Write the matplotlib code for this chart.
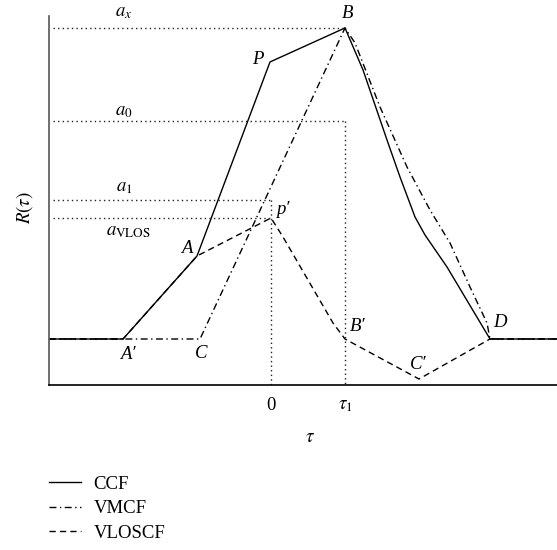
import numpy as np
import matplotlib
matplotlib.use("Agg")
import matplotlib.pyplot as plt

plt.rcParams['font.family'] = ['Liberation Serif', 'DejaVu Serif']
plt.rcParams['mathtext.fontset'] = 'stix'

## curves (x = tau, y = R(tau), arbitrary units)
ccf_x = [-22.2, -14.8, -7.4, -0.1, 7.4, 9.2, 11.6, 12.9, 14.4, 15.4, 17.6, 21.9, 28.6]
ccf_y = [4.6, 4.6, 12.9, 32.3, 35.7, 31.5, 24.5, 20.8, 16.8, 15.0, 11.8, 4.6, 4.6]

vmcf_x = [-22.2, -7.1, 7.4, 8.4, 10.9, 13.6, 15.9, 17.9, 19.9, 21.6, 21.9, 28.6]
vmcf_y = [4.6, 4.6, 35.7, 34.2, 27.8, 21.8, 17.5, 14.2, 9.8, 6.2, 4.6, 4.6]

vlos_x = [-22.2, -14.8, -7.4, 0.0, 1.2, 6.2, 7.4, 14.8, 21.9, 28.6]
vlos_y = [4.6, 4.6, 12.9, 16.7, 14.8, 6.2, 4.6, 0.6, 4.6, 4.6]

## reference levels
a_x, a_0, a_1, a_vlos = 35.7, 26.4, 18.5, 16.7
tau_0, tau_1 = 0.0, 7.4
level_names = [r'$a_x$', r'$a_0$', r'$a_1$', r'$a_{\mathrm{VLOS}}$']

## point labels
pt_names = ['P', 'B', 'p\u2032', 'A', 'A\u2032', 'C', 'B\u2032', 'C\u2032', 'D']
pt_x = [-1.3, 7.7, 1.2, -8.4, -14.3, -7.0, 8.7, 14.7, 22.9]
pt_y = [32.5, 37.1, 17.5, 13.6, 3.0, 3.1, 5.8, 2.0, 6.2]

fig = plt.figure(figsize=(5.57, 5.50), dpi=100)
ax = fig.add_axes([0.088, 0.3, 0.912, 0.671])
ax.set_xlim(-22.2, 28.6)
ax.set_ylim(0, 36.9)

lw = 1.0
l1, = ax.plot(ccf_x, ccf_y, color='black', lw=lw, label='CCF')
l2, = ax.plot(vmcf_x, vmcf_y, color='black', lw=lw, ls=(0, (5, 2.5, 1, 2.5)), label='VMCF')
l3, = ax.plot(vlos_x, vlos_y, color='black', lw=lw, ls=(0, (4.5, 3)), label='VLOSCF')

dot = dict(color='#222222', lw=1.0, ls=(0, (1, 2.3)))
x0 = -21.8
ax.plot([x0, tau_1], [a_x, a_x], **dot)
ax.plot([x0, tau_1], [a_0, a_0], **dot)
ax.plot([tau_1, tau_1], [a_0, 0], **dot)
ax.plot([x0, tau_0], [a_1, a_1], **dot)
ax.plot([x0, tau_0], [a_vlos, a_vlos], **dot)
ax.plot([tau_0, tau_0], [a_1, 0], **dot)

fs = 13.5
ax.text(-14.7, 37.2, level_names[0], fontsize=fs, ha='center', va='center', clip_on=False)
ax.text(-14.7, 27.3, level_names[1], fontsize=fs, ha='center', va='center')
ax.text(-14.7, 19.7, level_names[2], fontsize=fs, ha='center', va='center')
ax.text(-14.3, 15.3, level_names[3], fontsize=fs, ha='center', va='center')

for name, x, y in zip(pt_names, pt_x, pt_y):
    ax.text(x, y, name, fontsize=fs, style='italic', ha='center', va='center', clip_on=False)

for s in ['top', 'right']:
    ax.spines[s].set_visible(False)
ax.spines['left'].set_color('#555555')
ax.spines['left'].set_linewidth(1.2)
ax.spines['bottom'].set_linewidth(1.2)

ax.set_xticks([tau_0, tau_1])
ax.set_xticklabels(['0', r'$\tau_1$'], fontsize=fs)
ax.set_yticks([])
ax.tick_params(axis='x', length=0, pad=9)

fig.text(310 / 557, 1 - 437 / 550, r'$\tau$', fontsize=fs, ha='center', va='center')
fig.text(25 / 557, 1 - 207 / 550, r'$R(\tau)$', fontsize=fs, ha='center', va='center', rotation=90)

fig.legend(handles=[l1, l2, l3], loc='upper left', bbox_to_anchor=(0.075, 1 - 468 / 550),
           frameon=False, fontsize=fs, handlelength=1.7, handletextpad=0.65,
           labelspacing=0.4, borderaxespad=0)

fig.savefig('out.png', dpi=100)
